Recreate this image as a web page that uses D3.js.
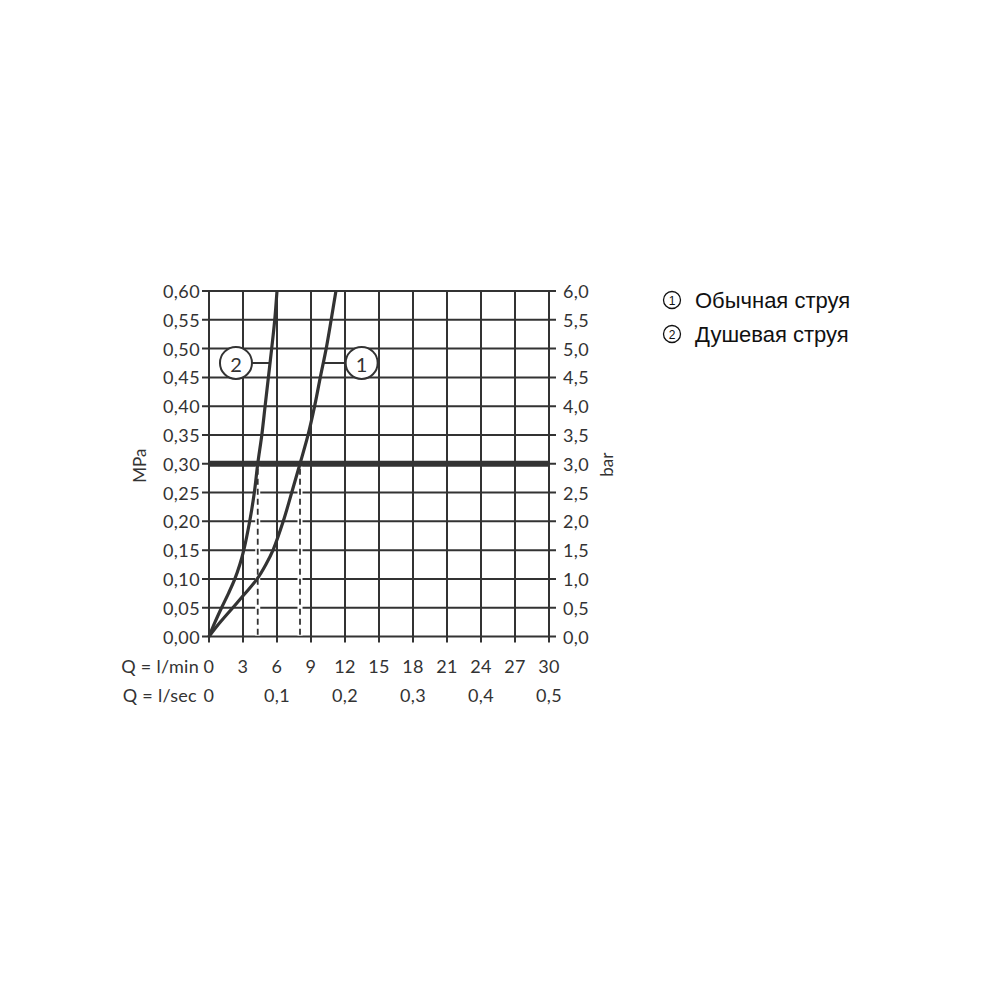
<!DOCTYPE html>
<html>
<head>
<meta charset="utf-8">
<script src="https://cdn.jsdelivr.net/npm/d3@7"></script>
<style>
  html, body { margin: 0; padding: 0; background: #fff; }
  svg { display: block; }
</style>
</head>
<body>
<script>
// ---- data ----
const flowTicks = [0, 3, 6, 9, 12, 15, 18, 21, 24, 27, 30];           // l/min
const secTicks = [0, 0.1, 0.2, 0.3, 0.4, 0.5];                           // l/sec
const mpaTicks = [0, 0.05, 0.10, 0.15, 0.20, 0.25, 0.30, 0.35, 0.40, 0.45, 0.50, 0.55, 0.60];
const barTicks = [0, 0.5, 1.0, 1.5, 2.0, 2.5, 3.0, 3.5, 4.0, 4.5, 5.0, 5.5, 6.0];
const curvePressure = [0, 0.025, 0.05, 0.075, 0.10, 0.125, 0.15, 0.20, 0.25, 0.30, 0.35, 0.40, 0.45, 0.50, 0.55, 0.60];
const curve1Flow = [0, 1.0, 2.1, 3.2, 4.25, 5.02, 5.65, 6.55, 7.3, 8.03, 8.74, 9.32, 9.82, 10.34, 10.78, 11.2];
const curve2Flow = [0, 0.53, 1.11, 1.72, 2.28, 2.72, 3.07, 3.59, 4.0, 4.3, 4.66, 4.95, 5.24, 5.53, 5.8, 6.0];
const refPressure = 0.30;
const refFlows = [4.3, 8.03];
const curveLabels = ["1", "2"];
const labelFlow = [13.47, 2.38];
const labelCurveFlow = [10.08, 5.38];
const labelPressure = 0.475;
const legendSymbols = ["1", "2"];
const legendItems = ["Обычная струя", "Душевая струя"];

// ---- layout ----
const W = 1000, H = 1000;
const pLeft = 209, pRight = 549, pTop = 291, pBottom = 636.5;
const ink = "#333";
const tickFont = "Lato, 'Open Sans', sans-serif";

const svg = d3.select("body").append("svg").attr("width", W).attr("height", H);

const x = d3.scaleLinear().domain([0, 30]).range([pLeft, pRight]);
const y = d3.scaleLinear().domain([0, 0.6]).range([pBottom, pTop]);
const yBar = d3.scaleLinear().domain([0, 6]).range([pBottom, pTop]);

// grid
const grid = svg.append("g");
grid.selectAll("line.v").data(flowTicks).join("line")
  .attr("x1", d => x(d)).attr("x2", d => x(d))
  .attr("y1", pTop - 1).attr("y2", pBottom + 6)
  .attr("stroke", ink).attr("stroke-width", 2);
grid.selectAll("line.h").data(mpaTicks).join("line")
  .attr("x1", pLeft - 7).attr("x2", pRight + 7)
  .attr("y1", d => y(d)).attr("y2", d => y(d))
  .attr("stroke", ink).attr("stroke-width", 2);

// thick 0.30 line
svg.append("line")
  .attr("x1", pLeft).attr("x2", pRight)
  .attr("y1", y(refPressure)).attr("y2", y(refPressure))
  .attr("stroke", ink).attr("stroke-width", 6);

// dashed reference lines
refFlows.forEach(q => {
  svg.append("line")
    .attr("x1", x(q)).attr("x2", x(q))
    .attr("y1", y(refPressure) + 3).attr("y2", y(0) - 1)
    .attr("stroke", "#fff").attr("stroke-width", 5);
  svg.append("line")
    .attr("x1", x(q)).attr("x2", x(q))
    .attr("y1", y(refPressure) + 5).attr("y2", y(0) - 1)
    .attr("stroke", ink).attr("stroke-width", 1.8)
    .attr("stroke-dasharray", "6,4");
});

// curves
const line = d3.line()
  .x(d => x(d[0])).y(d => y(d[1]))
  .curve(d3.curveCatmullRom.alpha(0.5));
[curve1Flow, curve2Flow].forEach(flows => {
  svg.append("path")
    .datum(flows.map((q, i) => [q, curvePressure[i]]))
    .attr("d", line)
    .attr("fill", "none")
    .attr("stroke", ink).attr("stroke-width", 3.2)
    .attr("stroke-linejoin", "round");
});

// curve labels
const r = 16;
curveLabels.forEach((lab, i) => {
  const cx = x(labelFlow[i]), cy = y(labelPressure);
  const edge = labelFlow[i] > labelCurveFlow[i] ? cx - r : cx + r;
  svg.append("line")
    .attr("x1", edge).attr("x2", x(labelCurveFlow[i]))
    .attr("y1", cy).attr("y2", cy)
    .attr("stroke", ink).attr("stroke-width", 2);
  svg.append("circle")
    .attr("cx", cx).attr("cy", cy).attr("r", r)
    .attr("fill", "#fff").attr("stroke", ink).attr("stroke-width", 2);
  svg.append("text")
    .attr("x", cx).attr("y", cy + 1)
    .attr("text-anchor", "middle").attr("dominant-baseline", "central")
    .attr("font-family", tickFont).attr("font-size", 20).attr("fill", ink)
    .text(lab);
});

// left axis labels (MPa)
const fmtMpa = d => d3.format(".2f")(d).replace(".", ",");
const fmtBar = d => d3.format(".1f")(d).replace(".", ",");
svg.append("g").selectAll("text").data(mpaTicks).join("text")
  .attr("x", pLeft - 9).attr("y", d => y(d))
  .attr("text-anchor", "end").attr("dominant-baseline", "central")
  .attr("font-family", tickFont).attr("font-size", 18).attr("letter-spacing", 0.4).attr("fill", ink)
  .text(fmtMpa);

// right axis labels (bar)
svg.append("g").selectAll("text").data(barTicks).join("text")
  .attr("x", pRight + 14).attr("y", d => yBar(d))
  .attr("text-anchor", "start").attr("dominant-baseline", "central")
  .attr("font-family", tickFont).attr("font-size", 18).attr("letter-spacing", 0.4).attr("fill", ink)
  .text(fmtBar);

// axis titles
svg.append("text")
  .attr("transform", `translate(139,${y(0.30) + 2}) rotate(-90)`)
  .attr("text-anchor", "middle").attr("dominant-baseline", "central")
  .attr("font-family", tickFont).attr("font-size", 17).attr("fill", ink)
  .text("MPa");
svg.append("text")
  .attr("transform", `translate(606,${y(0.30) + 1}) rotate(-90)`)
  .attr("text-anchor", "middle").attr("dominant-baseline", "central")
  .attr("font-family", tickFont).attr("font-size", 17).attr("fill", ink)
  .text("bar");

// bottom labels
const row1 = 666, row2 = 695;
svg.append("g").selectAll("text").data(flowTicks).join("text")
  .attr("x", d => x(d)).attr("y", row1)
  .attr("text-anchor", "middle").attr("dominant-baseline", "central")
  .attr("font-family", tickFont).attr("font-size", 18).attr("letter-spacing", 0.4).attr("fill", ink)
  .text(d => d);
svg.append("g").selectAll("text").data(secTicks).join("text")
  .attr("x", d => x(d * 60)).attr("y", row2)
  .attr("text-anchor", "middle").attr("dominant-baseline", "central")
  .attr("font-family", tickFont).attr("font-size", 18).attr("letter-spacing", 0.4).attr("fill", ink)
  .text(d => d === 0 ? "0" : d3.format(".1f")(d).replace(".", ","));
svg.append("text")
  .attr("x", 199).attr("y", row1)
  .attr("text-anchor", "end").attr("dominant-baseline", "central")
  .attr("font-family", tickFont).attr("font-size", 18).attr("letter-spacing", 0.3).attr("fill", ink)
  .text("Q = l/min");
svg.append("text")
  .attr("x", 197).attr("y", row2)
  .attr("text-anchor", "end").attr("dominant-baseline", "central")
  .attr("font-family", tickFont).attr("font-size", 18).attr("letter-spacing", 0.3).attr("fill", ink)
  .text("Q = l/sec");

// legend
const legend = svg.append("g");
legendSymbols.forEach((s, i) => {
  const cy = 300 + i * 34;
  legend.append("circle")
    .attr("cx", 672).attr("cy", cy).attr("r", 8.5)
    .attr("fill", "none").attr("stroke", "#111").attr("stroke-width", 1.3);
  legend.append("text")
    .attr("x", 672).attr("y", cy + 0.5)
    .attr("text-anchor", "middle").attr("dominant-baseline", "central")
    .attr("font-family", "'Liberation Sans', Arial, sans-serif")
    .attr("font-size", 12).attr("fill", "#111")
    .text(s);
});
legend.selectAll("text.lab").data(legendItems).join("text")
  .attr("x", 695).attr("y", (d, i) => 300 + i * 34)
  .attr("dominant-baseline", "central")
  .attr("font-family", "'Liberation Sans', Arial, sans-serif")
  .attr("font-size", 22).attr("fill", "#111")
  .text(d => d);
</script>
</body>
</html>
